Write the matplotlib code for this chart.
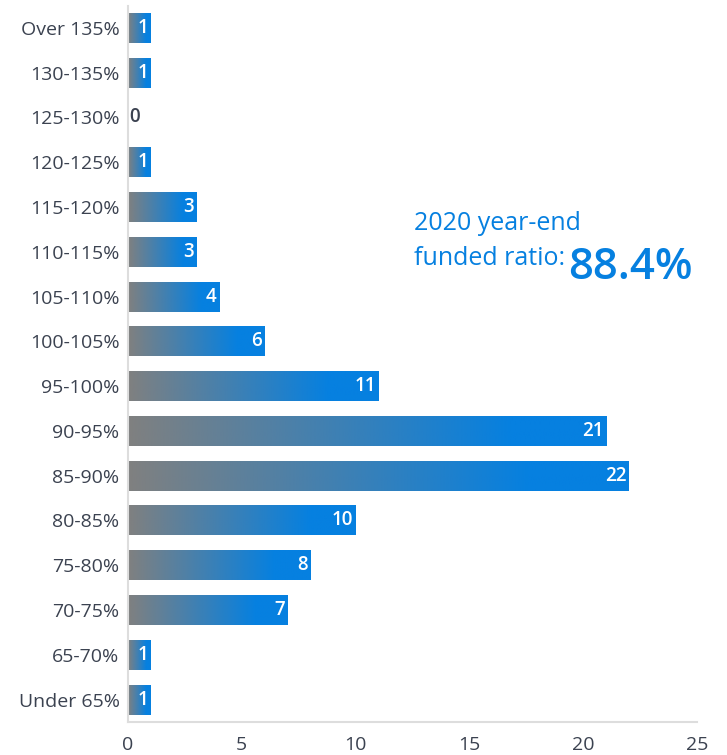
import numpy as np
import matplotlib.pyplot as plt
from matplotlib.colors import LinearSegmentedColormap

# 구간별 플랜 수 (아래에서 위로)
categories = ['Under 65%', '65-70%', '70-75%', '75-80%', '80-85%', '85-90%', '90-95%',
              '95-100%', '100-105%', '105-110%', '110-115%', '115-120%', '120-125%',
              '125-130%', '130-135%', 'Over 135%']
counts = [1, 1, 7, 8, 10, 22, 21, 11, 6, 4, 3, 3, 1, 0, 1, 1]
x_ticks = [0, 5, 10, 15, 20, 25]

plt.rcParams['font.family'] = ['Open Sans', 'DejaVu Sans']
text_color = '#3b4250'
blue = '#0680e0'

fig = plt.figure(figsize=(7.27, 7.55), dpi=100)
ax = fig.add_axes([0.176, 0.0437, 0.783, 0.949])

y = np.arange(len(categories))
bars = ax.barh(y, counts, height=0.67, color='none', edgecolor='none')

# 막대마다 회색 -> 파랑 그라데이션
cmap = LinearSegmentedColormap.from_list('g', [(0, '#808080'), (0.8, blue), (1, blue)])
grad = np.linspace(0, 1, 256).reshape(1, -1)
for b in bars:
    w = b.get_width()
    if w <= 0:
        continue
    x0, y0, h = b.get_x(), b.get_y(), b.get_height()
    im = ax.imshow(grad, cmap=cmap, aspect='auto', extent=(x0, x0 + w, y0, y0 + h),
                   interpolation='bilinear', zorder=2)
    im.set_clip_path(b)

for yi, c in zip(y, counts):
    if c == 0:
        ax.text(0.05, yi, str(c), ha='left', va='center', color=text_color,
                fontsize=13.5, fontweight='semibold', zorder=3)
    else:
        ax.text(c - 0.12, yi, str(c), ha='right', va='center', color='white',
                fontsize=13.5, fontweight='semibold', zorder=3)

ax.set_xlim(0, 25)
ax.set_ylim(-0.5, len(categories) - 0.5)
ax.set_yticks(y)
ax.set_yticklabels(categories)
ax.set_xticks(x_ticks)
ax.tick_params(axis='both', length=0, labelsize=14, colors=text_color)
ax.tick_params(axis='x', pad=10)
ax.tick_params(axis='y', pad=6)
for s in ['top', 'right']:
    ax.spines[s].set_visible(False)
for s in ['left', 'bottom']:
    ax.spines[s].set_color('#dddddd')
    ax.spines[s].set_linewidth(1.5)

fig.text(414 / 727, 1 - 223 / 755, '2020 year-end', color=blue, fontsize=18, va='center', ha='left')
fig.text(414 / 727, 1 - 259 / 755, 'funded ratio:', color=blue, fontsize=18, va='center', ha='left')
fig.text(568 / 727, 1 - 268 / 755, '88.4%', color=blue, fontsize=31.5, fontweight='semibold', va='center', ha='left')

fig.savefig('out.png', dpi=100)
